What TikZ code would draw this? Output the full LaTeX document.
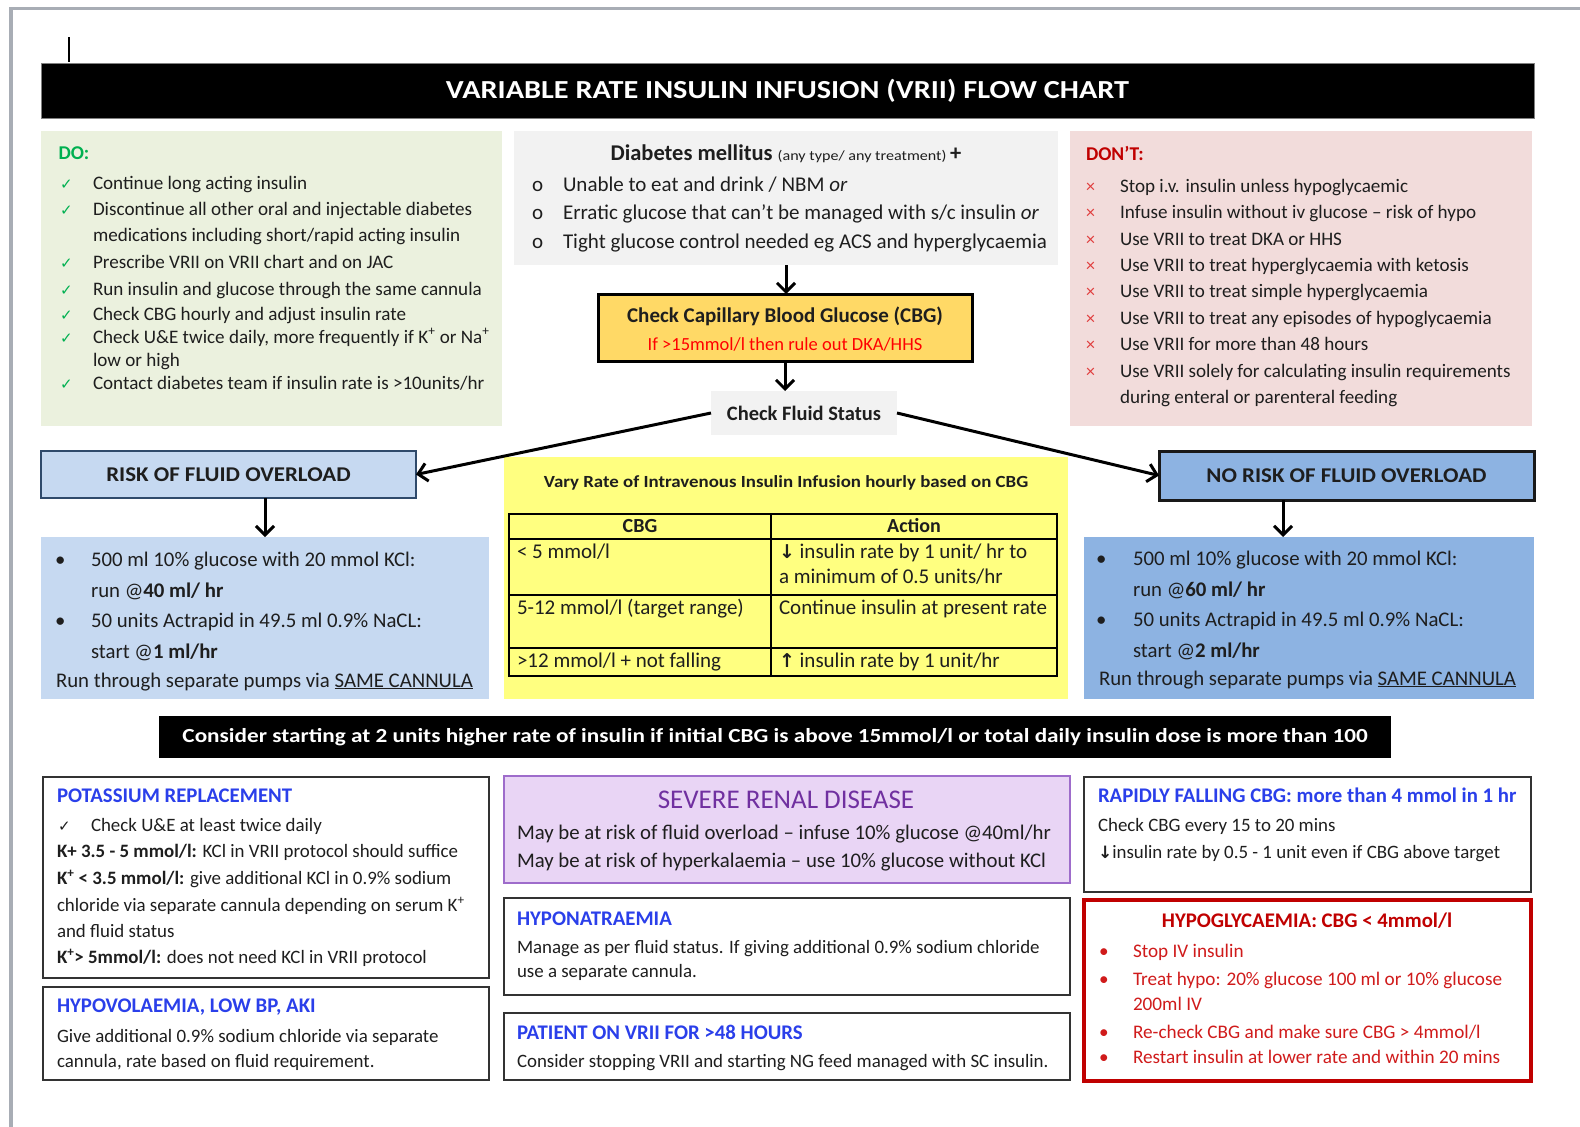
\documentclass[tikz,border=0pt]{standalone}
\usepackage{fontspec}
\setmainfont{Carlito}
\newfontfamily\symf{DejaVu Sans}
\usetikzlibrary{arrows.meta,calc}
\definecolor{ink}{HTML}{1E1E1E}
\definecolor{dogreen}{HTML}{00B050}
\definecolor{dofill}{HTML}{EBF1DE}
\definecolor{dmfill}{HTML}{F2F2F2}
\definecolor{dontfill}{HTML}{F2DCDB}
\definecolor{dontred}{HTML}{C00000}
\definecolor{xred}{HTML}{E03C3C}
\definecolor{cbgfill}{HTML}{FFD966}
\definecolor{redtxt}{HTML}{FF0000}
\definecolor{riskfill}{HTML}{C6D9F1}
\definecolor{riskline}{HTML}{2F4A6B}
\definecolor{nofill}{HTML}{8DB3E2}
\definecolor{yelfill}{HTML}{FFFF80}
\definecolor{renalfill}{HTML}{E9D5F5}
\definecolor{renalline}{HTML}{9E6CCB}
\definecolor{renaltxt}{HTML}{7030A0}
\definecolor{headblue}{HTML}{2A3FEA}
\definecolor{pagegray}{HTML}{A8ADB5}
\definecolor{hypored}{HTML}{C00000}
\definecolor{hypotxt}{HTML}{D01B1B}
\newcommand\fs[1]{\fontsize{#1}{#1}\selectfont}
\newcommand\wx[2]{\scalebox{#1}[1]{#2}}
\newcounter{tlc}
\newcommand\putline[3][]{\stepcounter{tlc}\node[txt,#1] (l\arabic{tlc}) at (#2) {#3};}
\newcommand\boxnode[7]{\node[#2, anchor=north west, minimum width=#5pt, minimum height=#6pt] (#1) at (#3,#4) {#7};}
\tikzset{
  basebox/.style={inner sep=0pt, outer sep=0pt, rectangle},
  txt/.style={anchor=base west, inner sep=0pt, outer sep=0pt, text=ink, font=\fs{18}},
  ctxt/.style={txt, anchor=base},
  titlebar/.style={basebox, fill=black, draw=gray, line width=0.8pt, text=white, font=\fs{26}\bfseries},
  dobox/.style={basebox, fill=dofill},
  dmbox/.style={basebox, fill=dmfill},
  dontbox/.style={basebox, fill=dontfill},
  cbgbox/.style={basebox, fill=cbgfill, draw=black, line width=3pt},
  fluidbox/.style={basebox, fill=dmfill, font=\fs{20.5}\bfseries, text=ink},
  riskbox/.style={basebox, fill=riskfill, draw=riskline, line width=2.5pt, font=\fs{21}\bfseries, text=ink},
  riskcbox/.style={basebox, fill=riskfill},
  yelbox/.style={basebox, fill=yelfill},
  noriskbox/.style={basebox, fill=nofill, draw=black!90, line width=3pt, font=\fs{21}\bfseries, text=ink},
  nrcbox/.style={basebox, fill=nofill},
  consbox/.style={basebox, fill=black, text=white, font=\fs{20}\bfseries},
  wbox/.style={basebox, fill=white, draw=black!80, line width=1.5pt},
  renalbox/.style={basebox, fill=renalfill, draw=renalline, line width=2pt},
  hypogbox/.style={basebox, fill=white, draw=hypored, line width=3.5pt},
  flowarrow/.style={line width=3pt, -{Straight Barb[length=9pt,width=18pt,line width=3pt]}},
  dohead/.style={txt, text=dogreen, font=\fs{19.5}\bfseries},
  chk/.style={txt, text=dogreen, font=\fs{15}\symf},
  dtxt/.style={txt, font=\fs{19.1}},
  mtxt/.style={txt, font=\fs{21}},
  xmark/.style={txt, text=xred, font=\fs{18}},
  bhead/.style={txt, text=headblue, font=\fs{20.8}\bfseries},
  stxt/.style={txt, font=\fs{18.9}},
  rtxt/.style={txt, font=\fs{20.8}},
  tblt/.style={txt, font=\fs{21}},
  htxt/.style={txt, text=hypotxt, font=\fs{19.2}},
}
\begin{document}
\begin{tikzpicture}[x=1pt,y=-1pt]
\useasboundingbox (0,0) rectangle (1580,1127);
\fill[white] (0,0) rectangle (1580,1127);
\draw[pagegray, line width=3pt] (9,8.5) -- (1580,8.5);
\draw[pagegray, line width=4.5pt] (11,7) -- (11,1127);
\draw[black, line width=2pt] (69,37) -- (69,62);

% ---------- boxes ----------
\boxnode{title}{titlebar}{41}{63}{1493}{55}{\wx{1.165}{VARIABLE RATE INSULIN INFUSION (VRII) FLOW CHART}}
\boxnode{do}{dobox}{41}{131}{461}{295}{}
\boxnode{dm}{dmbox}{514}{131}{544}{134}{}
\boxnode{dont}{dontbox}{1070}{131}{462}{295}{}
\boxnode{cbg}{cbgbox}{598}{294}{374}{67}{}
\boxnode{fluid}{fluidbox}{711}{391}{186}{44}{Check Fluid Status}
\boxnode{risk}{riskbox}{41}{451}{375}{47}{\wx{1.09}{RISK OF FLUID OVERLOAD}}
\boxnode{riskc}{riskcbox}{41}{537}{448}{162}{}
\boxnode{yel}{yelbox}{504}{457}{564}{242}{}
\boxnode{norisk}{noriskbox}{1159}{451}{375}{49}{\wx{1.09}{NO RISK OF FLUID OVERLOAD}}
\boxnode{nrc}{nrcbox}{1084}{537}{450}{162}{}
\boxnode{cons}{consbox}{159}{716}{1232}{42}{\wx{1.16}{Consider starting at 2 units higher rate of insulin if initial CBG is above 15mmol/l or total daily insulin dose is more than 100}}
\boxnode{pot}{wbox}{43}{777}{446}{201}{}
\boxnode{hypov}{wbox}{43}{987}{446}{93}{}
\boxnode{renal}{renalbox}{504}{776}{566}{107}{}
\boxnode{hypon}{wbox}{504}{898}{566}{97}{}
\boxnode{pat}{wbox}{504}{1013}{566}{67}{}
\boxnode{rapid}{wbox}{1084}{777}{447}{115}{}
\boxnode{hypog}{hypogbox}{1084}{900}{447}{181}{}

% ---------- connectors ----------
\draw[flowarrow] (dm.south) -- (dm.south |- cbg.north);
\draw[flowarrow] (cbg.south) -- (cbg.south |- fluid.north);
\draw[flowarrow] (fluid.west) -- (risk.east);
\draw[flowarrow] (fluid.east) -- (norisk.west);
\draw[flowarrow] (riskc.north |- risk.south) -- (riskc.north);
\coordinate (nra) at (1283,537);
\draw[flowarrow] (nra |- norisk.south) -- (nra);

% ---------- DO ----------
\putline[dohead]{58.5,159}{DO:}
\foreach \yy in {189,215,268,295,320,343,389} {\putline[chk]{60,\yy}{✓}}
\putline[dtxt]{93,189}{Continue long acting insulin}
\putline[dtxt]{93,215}{Discontinue all other oral and injectable diabetes}
\putline[dtxt]{93,241}{medications including short/rapid acting insulin}
\putline[dtxt]{93,268}{Prescribe VRII on VRII chart and on JAC}
\putline[dtxt]{93,295}{Run insulin and glucose through the same cannula}
\putline[dtxt]{93,320}{Check CBG hourly and adjust insulin rate}
\putline[dtxt]{93,343}{Check U\&E twice daily, more frequently if K\textsuperscript{+} or Na\textsuperscript{+}}
\putline[dtxt]{93,366}{low or high}
\putline[dtxt]{93,389}{Contact diabetes team if insulin rate is >10units/hr}

% ---------- Diabetes mellitus ----------
\putline[ctxt, font=\fs{22.5}]{786,160}{\textbf{Diabetes mellitus} {\fs{14}\wx{1.15}{(any type/ any treatment)}}\,\textbf{+}}
\foreach \yy in {191,219,248} {\putline[mtxt]{532,\yy}{o}}
\putline[mtxt]{563,191}{Unable to eat and drink / NBM \textit{or}}
\putline[mtxt]{563,219}{Erratic glucose that can’t be managed with s/c insulin \textit{or}}
\putline[mtxt]{563,248}{Tight glucose control needed eg ACS and hyperglycaemia}

% ---------- DON'T ----------
\putline[txt, text=dontred, font=\fs{19.5}\bfseries]{1086,160}{DON’T:}
\foreach \yy in {192,218,245,271,297,324,350,377} {\putline[xmark]{1086,\yy}{×}}
\putline[dtxt]{1120,192}{Stop i.v. insulin unless hypoglycaemic}
\putline[dtxt]{1120,218}{Infuse insulin without iv glucose – risk of hypo}
\putline[dtxt]{1120,245}{Use VRII to treat DKA or HHS}
\putline[dtxt]{1120,271}{Use VRII to treat hyperglycaemia with ketosis}
\putline[dtxt]{1120,297}{Use VRII to treat simple hyperglycaemia}
\putline[dtxt]{1120,324}{Use VRII to treat any episodes of hypoglycaemia}
\putline[dtxt]{1120,350}{Use VRII for more than 48 hours}
\putline[dtxt]{1120,377}{Use VRII solely for calculating insulin requirements}
\putline[dtxt]{1120,403}{during enteral or parenteral feeding}

% ---------- CBG ----------
\putline[ctxt, font=\fs{21}\bfseries]{785,322}{Check Capillary Blood Glucose (CBG)}
\putline[ctxt, text=redtxt, font=\fs{18.5}]{785,350}{If >15mmol/l then rule out DKA/HHS}

% ---------- risk content ----------
\foreach \yy in {566,627} {\putline[rtxt]{55,\yy}{•}}
\putline[rtxt]{91,566}{500 ml 10\% glucose with 20 mmol KCl:}
\putline[rtxt]{91,597}{run @\textbf{40 ml/ hr}}
\putline[rtxt]{91,627}{50 units Actrapid in 49.5 ml 0.9\% NaCL:}
\putline[rtxt]{91,658}{start @\textbf{1 ml/hr}}
\putline[rtxt]{56,687}{Run through separate pumps via \underline{SAME CANNULA}}

% ---------- no risk content ----------
\foreach \yy in {565,626} {\putline[rtxt]{1096,\yy}{•}}
\putline[rtxt]{1133,565}{500 ml 10\% glucose with 20 mmol KCl:}
\putline[rtxt]{1133,596}{run @\textbf{60 ml/ hr}}
\putline[rtxt]{1133,626}{50 units Actrapid in 49.5 ml 0.9\% NaCL:}
\putline[rtxt]{1133,657}{start @\textbf{2 ml/hr}}
\putline[rtxt]{1099,685}{Run through separate pumps via \underline{SAME CANNULA}}

% ---------- yellow table ----------
\putline[ctxt, font=\fs{17}\bfseries]{786,487}{\wx{1.11}{Vary Rate of Intravenous Insulin Infusion hourly based on CBG}}
\draw[line width=1.5pt] (509,514) rectangle (1057,676);
\draw[line width=1.5pt] (771,514) -- (771,676);
\draw[line width=1.5pt] (509,539) -- (1057,539);
\draw[line width=1.5pt] (509,595) -- (1057,595);
\draw[line width=1.5pt] (509,648) -- (1057,648);
\putline[ctxt, font=\fs{20}\bfseries]{640,532}{CBG}
\putline[ctxt, font=\fs{20}\bfseries]{914,532}{Action}
\putline[tblt]{517,558}{< 5 mmol/l}
\putline[tblt]{779,558}{{\symf\bfseries\fs{19}↓} insulin rate by 1 unit/ hr to}
\putline[tblt]{779,583}{a minimum of 0.5 units/hr}
\putline[tblt]{517,614}{5-12 mmol/l (target range)}
\putline[tblt]{779,614}{Continue insulin at present rate}
\putline[tblt]{517,667}{>12 mmol/l + not falling}
\putline[tblt]{779,667}{{\symf\bfseries\fs{19}↑} insulin rate by 1 unit/hr}

% ---------- potassium ----------
\putline[bhead]{57,802}{POTASSIUM REPLACEMENT}
\putline[txt, font=\fs{15}\symf]{58,831}{✓}
\putline[stxt]{91,831}{Check U\&E at least twice daily}
\putline[stxt]{57,857}{\textbf{K+ 3.5 - 5 mmol/l:} KCl in VRII protocol should suffice}
\putline[stxt]{57,884}{\textbf{K\textsuperscript{+} < 3.5 mmol/l:} give additional KCl in 0.9\% sodium}
\putline[stxt]{57,911}{chloride via separate cannula depending on serum K\textsuperscript{+}}
\putline[stxt]{57,937}{and fluid status}
\putline[stxt]{57,963}{\textbf{K\textsuperscript{+}> 5mmol/l:} does not need KCl in VRII protocol}

% ---------- hypovolaemia ----------
\putline[bhead]{57,1012}{HYPOVOLAEMIA, LOW BP, AKI}
\putline[stxt]{57,1042}{Give additional 0.9\% sodium chloride via separate}
\putline[stxt]{57,1067}{cannula, rate based on fluid requirement.}

% ---------- renal ----------
\putline[ctxt, text=renaltxt, font=\fs{27}]{786,808}{SEVERE RENAL DISEASE}
\putline[rtxt]{517,839}{May be at risk of fluid overload – infuse 10\% glucose @40ml/hr}
\putline[rtxt]{517,867}{May be at risk of hyperkalaemia – use 10\% glucose without KCl}

% ---------- hyponatraemia ----------
\putline[bhead]{517,925}{HYPONATRAEMIA}
\putline[stxt]{517,953}{Manage as per fluid status. If giving additional 0.9\% sodium chloride}
\putline[stxt]{517,977}{use a separate cannula.}

% ---------- >48 hours ----------
\putline[bhead]{517,1039}{PATIENT ON VRII FOR >48 HOURS}
\putline[stxt]{517,1067}{Consider stopping VRII and starting NG feed managed with SC insulin.}

% ---------- rapidly falling ----------
\putline[bhead]{1098,802}{RAPIDLY FALLING CBG: more than 4 mmol in 1 hr}
\putline[stxt]{1098,831}{Check CBG every 15 to 20 mins}
\putline[stxt]{1098,858}{{\symf\bfseries\fs{17}↓}insulin rate by 0.5 - 1 unit even if CBG above target}

% ---------- hypoglycaemia ----------
\putline[ctxt, text=dontred, font=\fs{20.8}\bfseries]{1307,927}{HYPOGLYCAEMIA: CBG < 4mmol/l}
\foreach \yy in {957,985,1038,1063} {\putline[htxt]{1099,\yy}{•}}
\putline[htxt]{1133,957}{Stop IV insulin}
\putline[htxt]{1133,985}{Treat hypo: 20\% glucose 100 ml or 10\% glucose}
\putline[htxt]{1133,1010}{200ml IV}
\putline[htxt]{1133,1038}{Re-check CBG and make sure CBG > 4mmol/l}
\putline[htxt]{1133,1063}{Restart insulin at lower rate and within 20 mins}
\end{tikzpicture}
\end{document}
